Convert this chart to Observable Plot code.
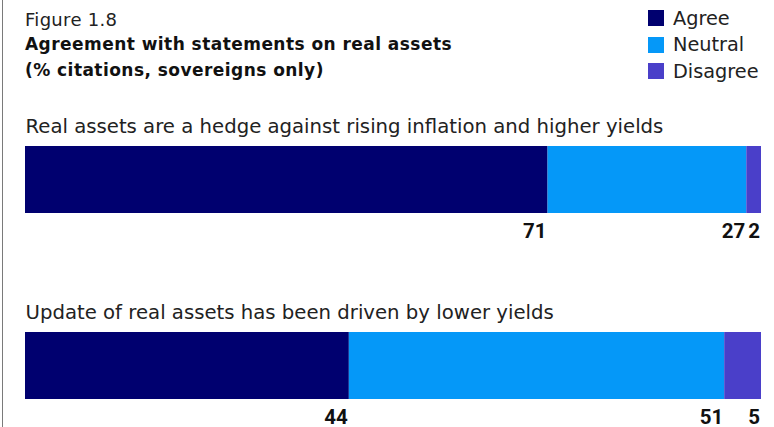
<!DOCTYPE html>
<html>
<head>
<meta charset="utf-8">
<script src="https://cdn.jsdelivr.net/npm/d3@7"></script>
<script src="https://cdn.jsdelivr.net/npm/@observablehq/plot@0.6"></script>
<style>
  html, body { margin: 0; padding: 0; background: #fff; }
  body { width: 774px; height: 427px; overflow: hidden; position: relative; font-family: "DejaVu Sans", sans-serif; color: #1a1a1a; }
  #frame { position: absolute; left: 2px; top: 0; height: 427px; border-left: 1px solid #7a7a7a; }
  #header { position: relative; height: 100px; }
  #fig { position: absolute; left: 25px; top: 9px; font-size: 18px; line-height: 22px; font-weight: 400; letter-spacing: 0.3px; color: #222; white-space: nowrap; }
  #title { position: absolute; left: 25px; top: 31px; font-size: 17px; line-height: 26px; font-weight: 700; letter-spacing: 0.45px; color: #111; white-space: nowrap; }
  #legend { position: absolute; left: 648px; top: 5px; }
  .item { display: flex; align-items: center; height: 26.5px; font-size: 19.3px; color: #222; white-space: nowrap; }
  .sw { width: 16px; height: 16px; margin-right: 9px; flex: none; }
  #chart svg { display: block; }
</style>
</head>
<body>
<div id="frame"></div>
<div id="header">
  <div id="fig">Figure 1.8</div>
  <div id="title">Agreement with statements on real assets<br>(% citations, sovereigns only)</div>
  <div id="legend"></div>
</div>
<div id="chart"></div>
<script>
// ---- data ----
const statements = [
  "Real assets are a hedge against rising inflation and higher yields",
  "Update of real assets has been driven by lower yields"
];
const responses = ["Agree", "Neutral", "Disagree"];
const agree = [71, 44];
const neutral = [27, 51];
const disagree = [2, 5];
const colors = ["#00006f", "#0598f8", "#4a3fc9"];

// ---- table built from the arrays ----
const seriesValues = [agree, neutral, disagree];
const rows = [];
statements.forEach((s, i) => {
  responses.forEach((r, j) => {
    rows.push({statement: s, response: r, value: seriesValues[j][i]});
  });
});

// ---- legend ----
const legend = document.getElementById("legend");
responses.forEach((r, j) => {
  const item = document.createElement("div");
  item.className = "item";
  const sw = document.createElement("span");
  sw.className = "sw";
  sw.style.background = colors[j];
  const lab = document.createElement("span");
  lab.textContent = r;
  item.appendChild(sw);
  item.appendChild(lab);
  legend.appendChild(item);
});

// ---- chart ----
const chart = Plot.plot({
  width: 774,
  height: 327,
  marginLeft: 25,
  marginRight: 13,
  marginTop: 46,
  marginBottom: 28,
  style: {fontFamily: "DejaVu Sans, sans-serif", background: "transparent"},
  x: {domain: [0, 100], axis: null},
  y: {domain: statements, axis: null, paddingInner: 0.641, paddingOuter: 0},
  color: {domain: responses, range: colors},
  marks: [
    Plot.rectX(rows, Plot.stackX({
      x: "value", y: "statement", fill: "response", z: "response"
    })),
    Plot.ruleX(rows, Plot.filter(d => d.response !== "Agree", Plot.stackX1({
      x: "value", y: "statement", z: "response", stroke: "white", strokeWidth: 1.2
    }))),
    Plot.text(rows, Plot.stackX2({
      x: "value", y: "statement", z: "response", text: "value",
      textAnchor: "end", lineAnchor: "bottom", dy: 57.5, dx: -1.5,
      fontFamily: "Roboto, sans-serif", fontSize: 20.5, fontWeight: 700, fill: "#111"
    })),
    Plot.text(statements, {
      y: d => d, text: d => d, frameAnchor: "left", textAnchor: "start",
      lineAnchor: "bottom", dy: -46.7, dx: 0,
      fontFamily: "DejaVu Sans, sans-serif", fontSize: 19.7, fill: "#222"
    })
  ]
});
document.getElementById("chart").appendChild(chart);
</script>
</body>
</html>
